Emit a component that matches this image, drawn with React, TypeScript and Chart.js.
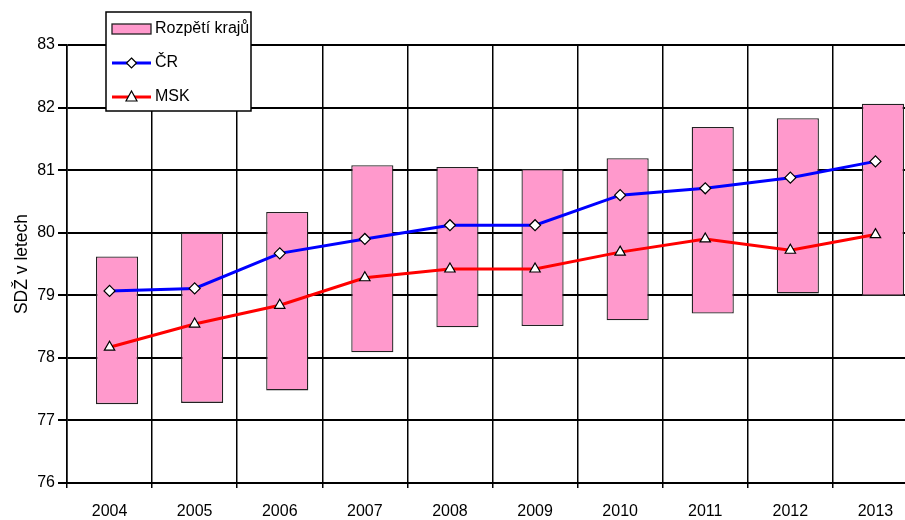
import { useEffect, useRef } from 'react';
import { Chart, registerables } from 'chart.js';

Chart.register(...registerables);

const years = ['2004', '2005', '2006', '2007', '2008', '2009', '2010', '2011', '2012', '2013'];
const rangeLow = [77.26, 77.28, 77.48, 78.09, 78.49, 78.51, 78.6, 78.71, 79.03, 78.99];
const rangeHigh = [79.62, 80.0, 80.33, 81.08, 81.05, 81.02, 81.19, 81.69, 81.83, 82.06];
const crValues = [79.07, 79.11, 79.67, 79.9, 80.12, 80.12, 80.6, 80.71, 80.88, 81.14];
const mskValues = [78.17, 78.54, 78.84, 79.28, 79.42, 79.42, 79.69, 79.9, 79.72, 79.97];
const seriesNames = ['Rozpětí krajů', 'ČR', 'MSK'];
const yMin = 76;
const yMax = 83;
const yTitle = 'SDŽ v letech';

const FONT = "'Liberation Sans', Arial, sans-serif";
const PINK = '#ff99cc';
const BLUE = '#0000ff';
const RED = '#ff0000';
const BAR_SHIFT = 0.088; // fraction of category width the range bars sit right of centre

const barShiftPlugin = {
  id: 'barShift',
  afterDatasetsUpdate(chart: any) {
    const xs = chart.scales.x;
    const step = xs.width / years.length;
    chart.data.datasets.forEach((ds: any, i: number) => {
      if (ds.type !== 'bar') return;
      const meta = chart.getDatasetMeta(i);
      meta.data.forEach((el: any) => {
        el.x += step * BAR_SHIFT;
      });
    });
  },
};

const legendPlugin = {
  id: 'boxLegend',
  afterDraw(chart: any) {
    const ctx = chart.ctx as CanvasRenderingContext2D;
    ctx.save();
    const bx = 106, by = 12, bw = 145, bh = 99;
    ctx.fillStyle = '#fff';
    ctx.fillRect(bx, by, bw, bh);
    ctx.lineWidth = 1.5;
    ctx.strokeStyle = '#000';
    ctx.strokeRect(bx, by, bw, bh);

    const sx1 = 112, sx2 = 151, tx = 155;
    const rows = [29, 63, 97];

    ctx.fillStyle = PINK;
    ctx.fillRect(sx1, 24, sx2 - sx1, 10);
    ctx.lineWidth = 1.3;
    ctx.strokeStyle = '#222';
    ctx.strokeRect(sx1, 24, sx2 - sx1, 10);

    const cx = (sx1 + sx2) / 2;
    ctx.lineWidth = 3;
    ctx.strokeStyle = BLUE;
    ctx.beginPath();
    ctx.moveTo(sx1, rows[1]);
    ctx.lineTo(sx2, rows[1]);
    ctx.stroke();
    ctx.beginPath();
    ctx.moveTo(cx, rows[1] - 5);
    ctx.lineTo(cx + 5, rows[1]);
    ctx.lineTo(cx, rows[1] + 5);
    ctx.lineTo(cx - 5, rows[1]);
    ctx.closePath();
    ctx.fillStyle = '#fff';
    ctx.fill();
    ctx.lineWidth = 1.2;
    ctx.strokeStyle = '#000';
    ctx.stroke();

    ctx.lineWidth = 3;
    ctx.strokeStyle = RED;
    ctx.beginPath();
    ctx.moveTo(sx1, rows[2]);
    ctx.lineTo(sx2, rows[2]);
    ctx.stroke();
    ctx.beginPath();
    ctx.moveTo(cx, rows[2] - 6);
    ctx.lineTo(cx + 5.5, rows[2] + 4);
    ctx.lineTo(cx - 5.5, rows[2] + 4);
    ctx.closePath();
    ctx.fillStyle = '#fff';
    ctx.fill();
    ctx.lineWidth = 1.2;
    ctx.strokeStyle = '#000';
    ctx.stroke();

    ctx.fillStyle = '#000';
    ctx.font = `16px ${FONT}`;
    ctx.textBaseline = 'middle';
    ctx.textAlign = 'left';
    seriesNames.forEach((n, i) => ctx.fillText(n, tx, rows[i]));
    ctx.restore();
  },
};

export default function App() {
  const ref = useRef<HTMLCanvasElement | null>(null);

  useEffect(() => {
    document.body.style.margin = '0';
    document.body.style.overflow = 'hidden';
    const canvas = ref.current;
    if (!canvas) return;
    const chart = new Chart(canvas, {
      type: 'bar',
      data: {
        labels: years,
        datasets: [
          {
            type: 'line',
            label: seriesNames[1],
            data: crValues,
            borderColor: BLUE,
            borderWidth: 3,
            backgroundColor: '#fff',
            pointStyle: 'rectRot',
            pointRadius: 5.5,
            pointBorderColor: '#000',
            pointBorderWidth: 1.2,
            pointBackgroundColor: '#fff',
            tension: 0,
            order: 1,
          },
          {
            type: 'line',
            label: seriesNames[2],
            data: mskValues,
            borderColor: RED,
            borderWidth: 3,
            backgroundColor: '#fff',
            pointStyle: 'triangle',
            pointRadius: 6,
            pointBorderColor: '#000',
            pointBorderWidth: 1.2,
            pointBackgroundColor: '#fff',
            tension: 0,
            order: 2,
          },
          {
            type: 'bar',
            label: seriesNames[0],
            data: years.map((_, i) => [rangeLow[i], rangeHigh[i]]) as any,
            backgroundColor: PINK,
            borderColor: '#222',
            borderWidth: 1.3,
            borderSkipped: false,
            categoryPercentage: 1,
            barPercentage: 0.495,
            order: 3,
          } as any,
        ],
      },
      plugins: [barShiftPlugin, legendPlugin],
      options: {
        responsive: false,
        animation: false,
        layout: { autoPadding: false, padding: { top: 45, right: 0, bottom: 0, left: 0 } },
        plugins: {
          legend: { display: false },
          tooltip: { enabled: false },
        },
        scales: {
          x: {
            type: 'category',
            offset: true,
            grid: {
              offset: true,
              color: '#000',
              lineWidth: 1.5,
              tickLength: 5,
              tickColor: '#000',
            },
            border: { display: true, color: '#000', width: 2 },
            ticks: {
              color: '#000',
              font: { family: FONT, size: 16 },
              padding: 14,
              maxRotation: 0,
            },
            afterFit: (s: any) => {
              s.height = 37;
              s.paddingLeft = 0;
              s.paddingRight = 0;
            },
          },
          y: {
            min: yMin,
            max: yMax,
            ticks: {
              stepSize: 1,
              color: '#000',
              font: { family: FONT, size: 16 },
              padding: 3,
            },
            grid: {
              color: '#000',
              lineWidth: 2,
              tickLength: 9,
              tickColor: '#000',
            },
            border: { display: true, color: '#000', width: 1.5 },
            title: {
              display: true,
              text: yTitle,
              color: '#000',
              font: { family: FONT, size: 17.5 },
              padding: { top: 12, bottom: 0 },
            },
            afterFit: (s: any) => {
              s.width = 67;
            },
          },
        },
      },
    });
    return () => chart.destroy();
  }, []);

  return (
    <div style={{ width: 905, height: 520, position: 'relative', overflow: 'hidden' }}>
      <canvas ref={ref} width={918} height={520} style={{ display: 'block' }} />
    </div>
  );
}
